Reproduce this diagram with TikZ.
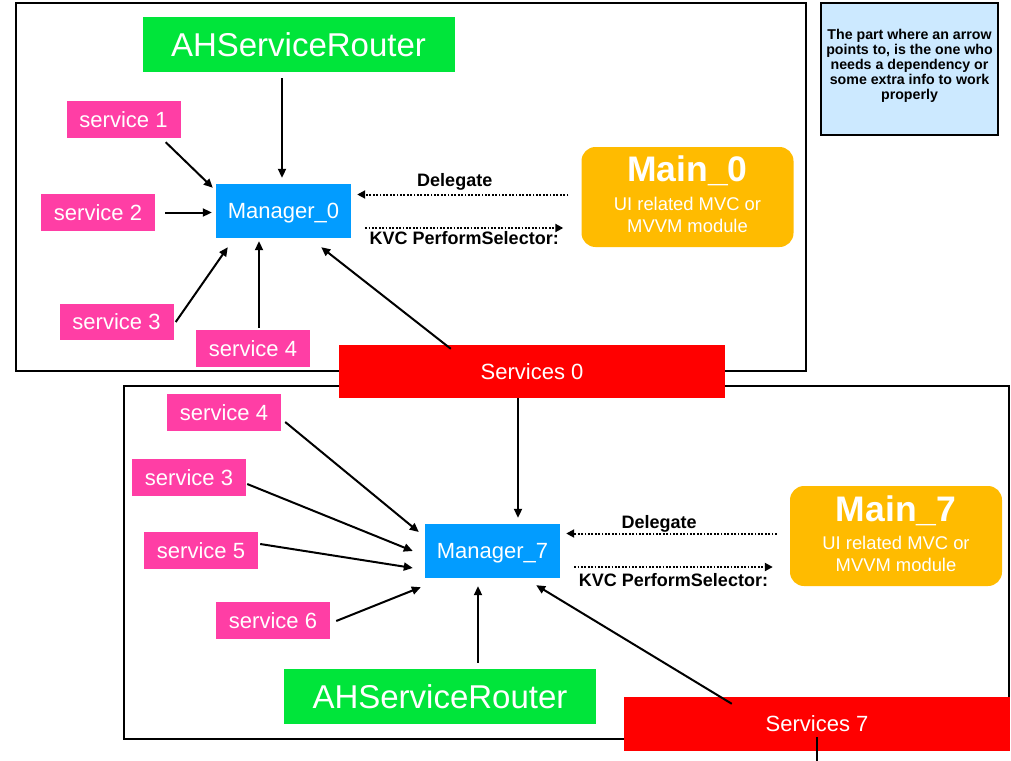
\documentclass[tikz,border=0pt]{standalone}
\usepackage{fontspec}
\setmainfont{Liberation Sans}
\usetikzlibrary{calc,arrows.meta}
\definecolor{routergreen}{RGB}{0,229,58}
\definecolor{svcpink}{RGB}{255,62,165}
\definecolor{mgrblue}{RGB}{2,156,255}
\definecolor{mainorange}{RGB}{255,187,0}
\definecolor{notefill}{RGB}{204,233,255}
\definecolor{svcsred}{RGB}{255,0,0}
\tikzset{
  box/.style={rectangle, inner sep=0pt, text=white, text depth=0pt, anchor=center},
  svc/.style={box, fill=svcpink, minimum width=114pt, minimum height=37pt, font=\fontsize{22}{26}\selectfont},
  mgr/.style={box, fill=mgrblue, minimum width=135pt, minimum height=54pt, font=\fontsize{22}{26}\selectfont},
  router/.style={box, fill=routergreen, minimum width=312pt, minimum height=55pt, font=\fontsize{33}{38}\selectfont},
  svcs/.style={box, fill=svcsred, minimum width=386pt, minimum height=54pt, font=\fontsize{22}{26}\selectfont},
  mainbox/.style={rectangle, rounded corners=14pt, fill=mainorange, minimum width=212pt, minimum height=100pt, inner sep=0pt},
  maintitle/.style={anchor=base, text=white, inner sep=0pt, font=\fontsize{35.5}{40}\bfseries},
  mainsub/.style={anchor=base, text=white, inner sep=0pt, font=\fontsize{18.4}{22}\selectfont},
  arr/.style={line width=2pt, -{Triangle[length=9pt,width=8pt]}},
  dotarr/.style={line width=2pt, dash pattern=on 1.8pt off 1.6pt, -{Triangle[length=8pt,width=8pt]}},
  frame/.style={line width=2pt},
  lbl/.style={anchor=base, inner sep=0pt, font=\fontsize{18}{21}\bfseries},
}
\begin{document}
\begin{tikzpicture}[x=1pt,y=-1pt]
\useasboundingbox (0,0) rectangle (1011,760);
% frames
\draw[frame] (16,3) rectangle (806,371);
\draw[frame] (124,386) rectangle (1009,739);
% note
\node[draw, line width=2pt, fill=notefill, minimum width=177pt, minimum height=132pt, inner sep=0pt] (note) at (909.5,69) {};
\node[align=center, inner sep=0pt, font=\fontsize{14.2}{15}\bfseries] (notetext) at (909.5,66) {The part where an arrow\\points to, is the one who\\needs a dependency or\\some extra info to work\\properly};

% ---- top section ----
\node[router] (r0) at (298.5,44.5) {AHServiceRouter};
\node[svc] (s1) at (123.5,119.5) {service 1};
\node[svc] (s2) at (98,212.5) {service 2};
\node[svc, minimum height=36pt] (s3) at (116.5,322) {service 3};
\node[svc] (s4) at (253,348.5) {service 4};
\node[mgr] (m0) at (283.5,211) {Manager\_0};
\node[svcs, minimum height=53pt] (sv0) at (532,371.5) {Services 0};
\node[mainbox] (main0) at (687.5,197) {};
\node[maintitle] (main0t) at (687.5,181.7) {Main\_0};
\node[mainsub] (main0a) at (687.5,210) {UI related MVC or};
\node[mainsub] (main0b) at (687.5,232.7) {MVVM module};

\draw[arr] ($(m0.north |- r0.south)+(-1.5,6)$) -- ($(m0.north)+(-1.5,-6)$);
\draw[arr] ($(s1.south east)+(-15,4)$) -- ($(m0.north west)+(-3,4)$);
\draw[arr] ($(s2.east)+(10,0)$) -- ($(m0.west |- s2.east)+(-4,0)$);
\draw[arr] ($(s3.east)+(2,0)$) -- ($(m0.south west)+(12,9)$);
\draw[arr] ($(s4.north)+(6,-2)$) -- ($(m0.south)+(-24.5,3)$);
\draw[arr] ($(sv0.north west)+(112,4)$) -- ($(m0.south east)+(-30,9)$);
\draw[dotarr] ($(main0.west)+(-13,-2.5)$) -- ($(m0.east)+(6,-16.5)$)
  node[lbl, midway, xshift=-8pt, yshift=8.3pt] {Delegate};
\draw[dotarr] ($(m0.east)+(14,17)$) -- ($(main0.west)+(-18,31)$)
  node[lbl, midway, yshift=-16pt] {KVC PerformSelector:};

% ---- bottom section ----
\node[svc] (s4b) at (224,412.5) {service 4};
\node[svc] (s3b) at (189,477.5) {service 3};
\node[svc] (s5b) at (201,550.5) {service 5};
\node[svc] (s6b) at (273,620.5) {service 6};
\node[mgr] (m7) at (492.5,551) {Manager\_7};
\node[router] (r7) at (440,696.5) {AHServiceRouter};
\node[svcs] (sv7) at (817,724) {Services 7};
\node[mainbox] (main7) at (896,536) {};
\node[maintitle] (main7t) at (896,521) {Main\_7};
\node[mainsub] (main7a) at (896,549.5) {UI related MVC or};
\node[mainsub] (main7b) at (896,571.7) {MVVM module};
\coordinate (sv7out) at (817,765);

\draw[arr] ($(sv0.south)+(-14,0)$) -- ($(m7.north)+(25.5,-6)$);
\draw[arr] ($(s4b.east)+(4,9.5)$) -- ($(m7.west)+(-6,-19)$);
\draw[arr] ($(s3b.east)+(1,6.5)$) -- ($(m7.west)+(-12,0)$);
\draw[arr] ($(s5b.east)+(2,-6.5)$) -- ($(m7.west)+(-12,17)$);
\draw[arr] ($(s6b.east)+(6,0.5)$) -- ($(m7.south west)+(-4,9)$);
\draw[arr] ($(r7.north)+(38,-6)$) -- ($(m7.south)+(-14.5,8)$);
\draw[arr] ($(sv7.north west)+(108,7)$) -- ($(m7.south east)+(-24,7)$);
\draw[line width=2pt] ($(sv7.south)+(0,-14)$) -- (sv7out);
\draw[dotarr] ($(main7.west)+(-13,-2.5)$) -- ($(m7.east)+(6,-17.5)$)
  node[lbl, midway, xshift=-12.3pt, yshift=5pt] {Delegate};
\draw[dotarr] ($(m7.east)+(14,16)$) -- ($(main7.west)+(-17,31)$)
  node[lbl, midway, yshift=-19.3pt] {KVC PerformSelector:};
\end{tikzpicture}
\end{document}
